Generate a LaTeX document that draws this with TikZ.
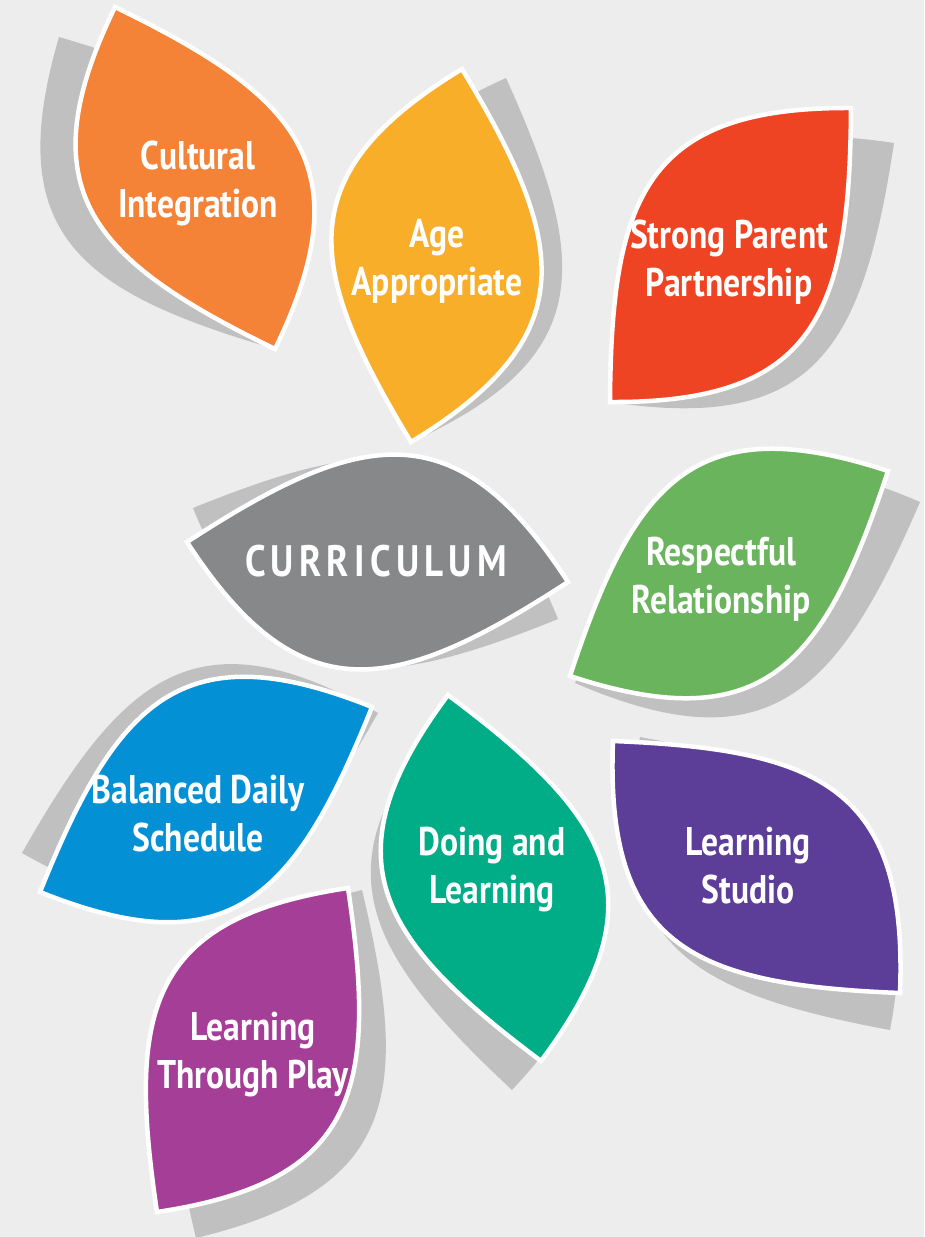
\documentclass[tikz,border=0pt]{standalone}
\usepackage{fontspec}
\newfontfamily\leaffont{PT Sans}[FakeStretch=0.84]
\usetikzlibrary{calc,positioning}
\definecolor{paper}{HTML}{EDEDED}
\definecolor{shadowgray}{HTML}{C0C0C0}
\definecolor{leaforange}{HTML}{F48237}
\definecolor{leafyellow}{HTML}{F9AE2A}
\definecolor{leafred}{HTML}{EF4423}
\definecolor{leafgray}{HTML}{878889}
\definecolor{leafgreen}{HTML}{6BB45E}
\definecolor{leafblue}{HTML}{0390D4}
\definecolor{leafteal}{HTML}{00AD87}
\definecolor{leafpurple}{HTML}{5C3D97}
\definecolor{leafmagenta}{HTML}{A43E96}
\tikzset{
	leaf/.style={fill=#1,draw=white,line width=4.5pt},
	leafshadow/.style={fill=shadowgray},
	leaftext/.style={text=white,align=center,font=\leaffont\bfseries\fontsize{40}{48}\selectfont},
	hubtext/.style={text=white,font=\leaffont\bfseries\fontsize{44}{48}\selectfont\addfontfeature{LetterSpace=12}}
}

\begin{document}
\begin{tikzpicture}[x=1pt,y=-1pt]
		\fill[paper] (0,0) rectangle (924,1237);
		\useasboundingbox (0,0) rectangle (924,1237);
		\foreach \ax/\ay/\bx/\by in {59/37/275/349,506/78/411/442,894/143/610/402,193/508/558/619,920/502/575/683,378/713/22/853,458/705/512/1090,640/737/890/1030,362/890/196/1238}
			\fill[leafshadow] (\ax,\ay) .. controls ($(\ax,\ay)!0.54!-51:(\bx,\by)$) and ($(\bx,\by)!0.54!39:(\ax,\ay)$) .. (\bx,\by) .. controls ($(\bx,\by)!0.54!-51:(\ax,\ay)$) and ($(\ax,\ay)!0.54!39:(\bx,\by)$) .. cycle;
		\foreach \ax/\ay/\bx/\by/\col in {115/7/275/349/leaforange,462/69/411/442/leafyellow,851/108/610/402/leafred,187/542/568/582/leafgray,888/471/570/676/leafgreen,372/707/40/892/leafblue,448/695/541/1061/leafteal,613/741/900/993/leafpurple,348/888/157/1212/leafmagenta}
			\filldraw[leaf=\col] (\ax,\ay) .. controls ($(\ax,\ay)!0.54!-51:(\bx,\by)$) and ($(\bx,\by)!0.54!39:(\ax,\ay)$) .. (\bx,\by) .. controls ($(\bx,\by)!0.54!-51:(\ax,\ay)$) and ($(\ax,\ay)!0.54!39:(\bx,\by)$) .. cycle;
		\node[leaftext] (cultural) at (198,183.5) {Cultural\\Integration};
		\node[leaftext] (age) at (437,261) {Age\\Appropriate};
		\node[leaftext] (parent) at (729,262) {Strong Parent\\Partnership};
		\node[hubtext] (curriculum) at (376,561) {CURRICULUM};
		\node[leaftext] (respect) at (721,579) {Respectful\\Relationship};
		\node[leaftext] (balanced) at (198,814) {Balanced Daily\\Schedule};
		\node[leaftext] (doing) at (492,870) {Doing and\\Learning};
		\node[leaftext] (studio) at (748,866) {Learning\\Studio};
		\node[leaftext] (play) at (253,1055) {Learning\\Through Play};
	\end{tikzpicture}
\end{document}
